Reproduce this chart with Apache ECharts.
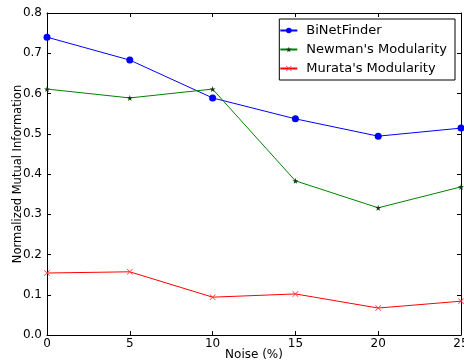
<!DOCTYPE html>
<html><head><meta charset="utf-8">
<script src="https://cdn.jsdelivr.net/npm/echarts@6/dist/echarts.min.js"></script>
<style>html,body{margin:0;padding:0;background:#fff}#c{width:464px;height:362px}</style>
</head><body><div id="c"></div>
<script>
const noise = [0, 5, 10, 15, 20, 25];
const biNetFinder = [0.740, 0.683, 0.589, 0.537, 0.494, 0.514];
const newman = [0.611, 0.589, 0.611, 0.383, 0.316, 0.368];
const murata = [0.154, 0.157, 0.094, 0.102, 0.067, 0.084];
const seriesNames = ["BiNetFinder", "Newman's Modularity", "Murata's Modularity"];

const starPath = 'path://M50,0 L61,35 L98,35 L68,57 L79,91 L50,70 L21,91 L32,57 L2,35 L39,35 Z';
const xPath = 'path://M0,8 L8,0 L50,42 L92,0 L100,8 L58,50 L100,92 L92,100 L50,58 L8,100 L0,92 L42,50 Z';
const font = 'DejaVu Sans';
const chart = echarts.init(document.getElementById('c'), null, {renderer: 'canvas'});
const pairs = arr => noise.map((x, i) => [x, arr[i]]);
const axisCommon = {
  axisLine: {show: true, onZero: false, lineStyle: {color: '#000', width: 1}},
  axisTick: {show: true, inside: true, length: 4, lineStyle: {color: '#000'}},
  splitLine: {show: false}
};
chart.setOption({
  animation: false,
  textStyle: {fontFamily: font},
  grid: {left: 47, right: 3, top: 13, bottom: 27, containLabel: false, outerBoundsMode: 'none'},
  xAxis: [
    Object.assign({type: 'value', min: 0, max: 25, interval: 5, position: 'bottom',
      name: 'Noise (%)', nameLocation: 'middle', nameGap: 14, nameMoveOverlap: false,
      nameTextStyle: {fontFamily: font, fontSize: 12, color: '#000'},
      axisLabel: {fontFamily: font, fontSize: 12, color: '#000', margin: 3}}, axisCommon),
    Object.assign({type: 'value', min: 0, max: 25, interval: 5, position: 'top',
      axisLabel: {show: false}}, axisCommon)
  ],
  yAxis: [
    Object.assign({type: 'value', min: 0, max: 0.8, interval: 0.1, position: 'left',
      name: 'Normalized Mutual Information', nameLocation: 'middle', nameGap: 23, nameMoveOverlap: false,
      nameTextStyle: {fontFamily: font, fontSize: 11.5, color: '#000'},
      axisLabel: {fontFamily: font, fontSize: 12, color: '#000', margin: 5,
        formatter: v => v.toFixed(1)}}, axisCommon),
    Object.assign({type: 'value', min: 0, max: 0.8, interval: 0.1, position: 'right',
      axisLabel: {show: false}}, axisCommon)
  ],
  legend: {
    orient: 'vertical', right: 9, top: 19,
    data: seriesNames,
    backgroundColor: '#fff', borderColor: '#000', borderWidth: 1,
    padding: [5, 8, 5, 0], itemGap: 6, itemWidth: 17, itemHeight: 7,
    textStyle: {fontFamily: font, fontSize: 13, color: '#000', padding: [0, 0, 0, 4]}
  },
  series: [
    {name: seriesNames[0], type: 'line', data: pairs(biNetFinder), symbol: 'circle', symbolSize: 7,
      lineStyle: {color: '#0000ff', width: 1}, itemStyle: {color: '#0000ff'}},
    {name: seriesNames[1], type: 'line', data: pairs(newman), symbol: starPath, symbolSize: 6,
      lineStyle: {color: '#008000', width: 1}, itemStyle: {color: '#0a3a0a'}},
    {name: seriesNames[2], type: 'line', data: pairs(murata), symbol: xPath, symbolSize: 6,
      lineStyle: {color: '#ff0000', width: 1}, itemStyle: {color: '#ff3030'}}
  ]
});
</script></body></html>
